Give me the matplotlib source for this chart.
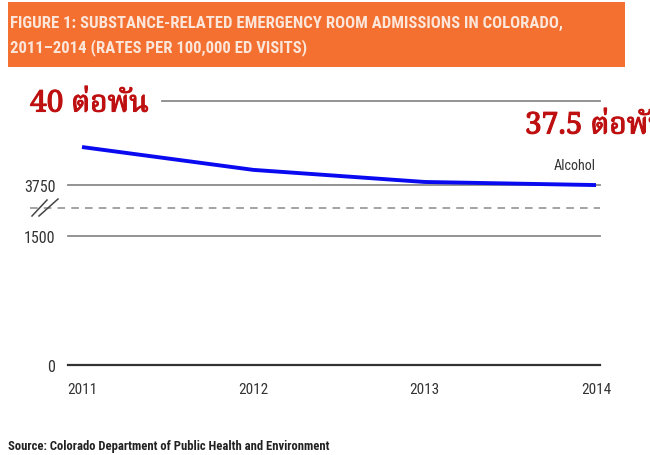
import numpy as np
import matplotlib
matplotlib.use("Agg")
import matplotlib.pyplot as plt
from matplotlib.patches import Rectangle
from matplotlib.lines import Line2D
import matplotlib.patheffects as pe
import logging
logging.getLogger("matplotlib.font_manager").setLevel(logging.ERROR)

years = [2011, 2012, 2013, 2014]
alcohol = [3863, 3795, 3759, 3747]
ytick_vals = [0, 1500, 3750]
ytick_labels = ["0", "1500", "3750"]
top_grid = 4000
break_val = 2735
title_lines = ["FIGURE 1: SUBSTANCE-RELATED EMERGENCY ROOM ADMISSIONS IN COLORADO,",
               "2011\u20132014 (RATES PER 100,000 ED VISITS)"]
thai_left = "40 ต่อพัน"
thai_right = "37.5 ต่อพัน"
series_label = "Alcohol"
source = "Source: Colorado Department of Public Health and Environment"

narrow = ["Roboto Condensed", "Liberation Sans", "DejaVu Sans"]
thai_fonts = ["Noto Serif Thai", "Noto Sans Thai", "Noto Sans", "DejaVu Sans"]

W, H = 650, 456
fig = plt.figure(figsize=(W/100, H/100), dpi=100)

def fx(px):
    return px / W

def fy(py):
    return 1 - py / H

# header
fig.patches.append(Rectangle((fx(8), fy(68)), fx(617), (68-3)/H, transform=fig.transFigure,
                             facecolor="#F37031", edgecolor="none"))
fig.text(fx(10), fy(23), title_lines[0], family=narrow, weight="bold", fontsize=12.1,
         color="#FCE6DA", va="center", ha="left")
fig.text(fx(10), fy(48), title_lines[1], family=narrow, weight="bold", fontsize=12.1,
         color="#FCE6DA", va="center", ha="left")

ax = fig.add_axes([fx(68), fy(366), fx(600-68), (366-102)/H])
src = [0, 1500, 3750, 4000]
dst = [0, 129, 180, 264]
fwd = lambda v: np.interp(v, src, dst)
inv = lambda u: np.interp(u, dst, src)
ax.set_yscale("function", functions=(fwd, inv))
ax.set_ylim(0, 4000)
x0 = 2011 - 14/171.3
x1 = 2014 + 4/171.3
ax.set_xlim(x0, x1)

for s in ax.spines.values():
    s.set_visible(False)

for v in [1500, 3750]:
    ax.axhline(v, color="#8a8a8a", lw=1.3, clip_on=False, zorder=1)
ax.axhline(top_grid, xmin=(162-68)/532, color="#8a8a8a", lw=1.3, clip_on=False, zorder=1)
ax.axhline(0, color="#333333", lw=1.6, clip_on=False, zorder=1)
ax.plot([-0.071, 1], [break_val, break_val], transform=ax.get_yaxis_transform(),
        color="#8a8a8a", lw=1.1, ls=(0, (5, 4)), clip_on=False)

ax.plot(years, alcohol, color="#0A0AF0", lw=2.8, solid_capstyle="butt", clip_on=False, zorder=3)

ax.set_yticks(ytick_vals)
ax.set_yticklabels(ytick_labels, family=narrow, fontsize=11.5, color="#333333")
ax.tick_params(axis="y", length=0, pad=9)
ax.set_xticks(years)
ax.set_xticklabels([str(y) for y in years], family=narrow, fontsize=11, color="#333333")
ax.tick_params(axis="x", length=0, pad=12)
ax.minorticks_off()

# break marker
for (xa, ya, xb, yb) in [(32, 217, 47, 201), (39, 217, 58, 200)]:
    fig.lines.append(Line2D([fx(xa), fx(xb)], [fy(ya), fy(yb)], transform=fig.transFigure,
                            color="#444444", lw=1.1))

ax.text(years[-1], 3790, series_label, family=narrow, fontsize=10.2, color="#333333",
        ha="right", va="bottom")

bold_fx = [pe.withStroke(linewidth=0.8, foreground="#BE1010")]
fig.text(fx(30), fy(105), thai_left, family=thai_fonts, weight="bold", fontsize=21.5,
         color="#BE1010", va="center", ha="left", path_effects=bold_fx)
fig.text(fx(525), fy(127), thai_right, family=thai_fonts, weight="bold", fontsize=21.5,
         color="#BE1010", va="center", ha="left", path_effects=bold_fx)

fig.text(fx(8), fy(447), source, family=narrow, weight="bold", fontsize=9.1,
         color="#222222", va="center", ha="left")

fig.savefig("out.png", dpi=100)
